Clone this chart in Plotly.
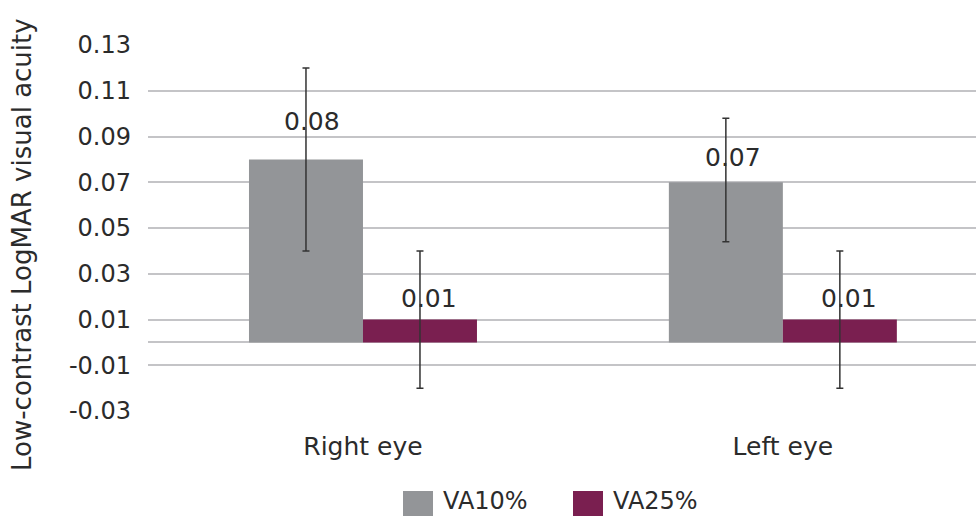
import plotly.graph_objects as go

categories = ["Right eye", "Left eye"]
series_names = ["VA10%", "VA25%"]
va10 = [0.08, 0.07]
va25 = [0.01, 0.01]
va10_err_plus = [0.04, 0.028]
va10_err_minus = [0.04, 0.026]
va25_err_plus = [0.03, 0.03]
va25_err_minus = [0.03, 0.03]
tick_vals = [-0.03, -0.01, 0.01, 0.03, 0.05, 0.07, 0.09, 0.11, 0.13]
tick_text = ["-0.03", "-0.01", "0.01", "0.03", "0.05", "0.07", "0.09", "0.11", "0.13"]

colors = ["#939598", "#7a1f50"]
FONT = "DejaVu Sans"
TXT = "#2b2b2b"
W, H = 976, 516
L, R, T, B = 148, 0, 45, 105

fig = go.Figure()
values = [va10, va25]
errs = [(va10_err_plus, va10_err_minus), (va25_err_plus, va25_err_minus)]
for i in range(2):
    fig.add_trace(go.Bar(
        x=categories, y=values[i], name=series_names[i],
        marker=dict(color=colors[i], line=dict(width=0)),
        error_y=dict(type="data", symmetric=False, array=errs[i][0], arrayminus=errs[i][1],
                     color="#333333", thickness=1.5, width=3.5),
        showlegend=False, hoverinfo="skip",
    ))

# data labels
bar_px = 114
label_yshift = [[38, 25], [21, 21]]
label_xshift = [[6, 7], [9, 9]]
for i in range(2):
    for j, c in enumerate(categories):
        fig.add_annotation(x=c, y=values[i][j], xref="x", yref="y",
                           text=f"{values[i][j]:.2f}", showarrow=False,
                           xshift=(i - 0.5) * bar_px + label_xshift[i][j],
                           yshift=label_yshift[i][j],
                           font=dict(family=FONT, size=25, color=TXT))

# custom legend
pw = W - L - R
ph = H - T - B
leg_x = [403, 573]
for i in range(2):
    x0 = (leg_x[i] - L) / pw
    x1 = (leg_x[i] + 30 - L) / pw
    y0 = (H - B - 516) / ph
    y1 = (H - B - 491) / ph
    fig.add_shape(type="rect", xref="paper", yref="paper", x0=x0, x1=x1, y0=y0, y1=y1,
                  fillcolor=colors[i], line=dict(width=0))
    fig.add_annotation(xref="paper", yref="paper", x=(leg_x[i] + 38 - L) / pw,
                       y=(H - B - 501) / ph, text=series_names[i], showarrow=False,
                       xanchor="left", yanchor="middle",
                       font=dict(family=FONT, size=24, color=TXT))

# y-axis title
fig.add_annotation(xref="paper", yref="paper", x=(22 - L) / pw, y=(H - B - 245) / ph,
                   text="Low-contrast LogMAR visual acuity", textangle=-90, showarrow=False,
                   xanchor="center", yanchor="middle",
                   font=dict(family=FONT, size=26, color=TXT))

fig.update_layout(
    width=W, height=H,
    margin=dict(l=L, r=R, t=T, b=B, autoexpand=False),
    plot_bgcolor="white", paper_bgcolor="white",
    barmode="group", bargap=0.457, bargroupgap=0,
    font=dict(family=FONT, size=24, color=TXT),
    showlegend=False,
)
fig.update_xaxes(range=[-0.512, 1.46], showgrid=False, showline=False, ticks="",
                 ticklabelstandoff=18, tickfont=dict(size=25, color=TXT))
fig.update_yaxes(range=[-0.03, 0.13], tickvals=tick_vals, ticktext=tick_text,
                 showgrid=True, gridcolor="#c4c4c7", gridwidth=1.5,
                 zeroline=True, zerolinecolor="#c4c4c7", zerolinewidth=1.5,
                 showline=False, ticks="", ticklabelstandoff=16,
                 tickfont=dict(size=24, color=TXT))

fig.write_html("out.html", config={"displayModeBar": False},
               post_script="document.body.style.margin='0px';document.body.style.overflow='hidden';")
